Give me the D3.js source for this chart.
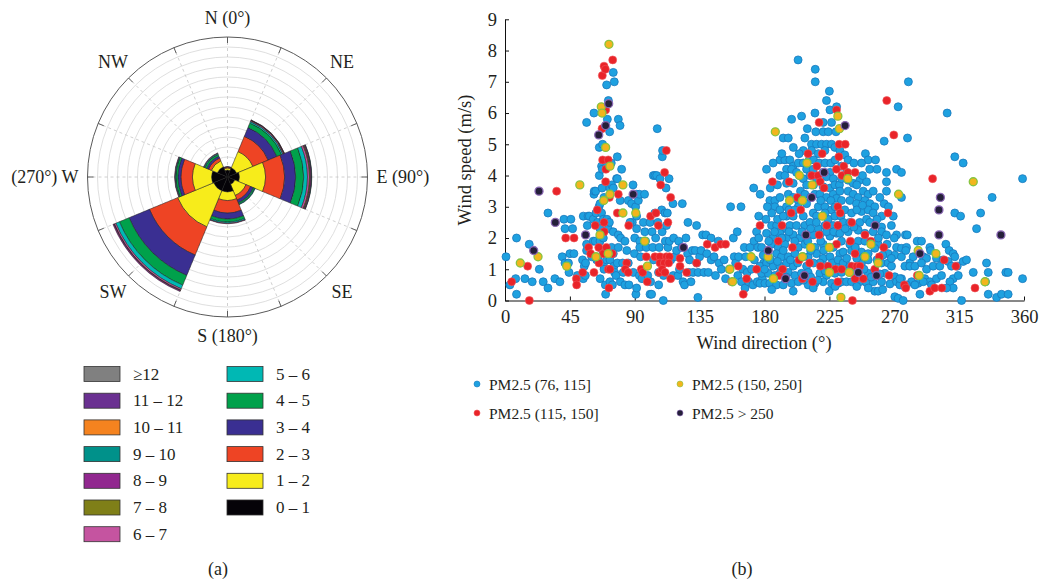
<!DOCTYPE html>
<meta charset="utf-8">
<body style="margin:0;background-color:white;">
<svg width="1041" height="583"></svg>
<script src="https://d3js.org/d3.v7.min.js"></script>
<script>

var svgContainer = d3.select("svg");
var serifFont = '"Liberation Serif", "DejaVu Serif", serif';
var inkColor = '#231f20';

// ---------------- (a) wind rose data ----------------
var sectorAngles  = [0, 45, 90, 135, 180, 225, 270, 315];
var compassLabels = ["N (0°)", "NE", "E (90°)", "SE", "S (180°)", "SW", "(270°) W", "NW"];
var speedBins = ["0 – 1", "1 – 2", "2 – 3", "3 – 4", "4 – 5", "5 – 6", "6 – 7",
				 "7 – 8", "8 – 9", "9 – 10", "10 – 11", "11 – 12", "≥12"];
var binColors = ["#050308", "#f7ec1b", "#ee4424", "#3a2f92", "#00a14b", "#00b8b4", "#c554a0",
				 "#7f7f18", "#91278f", "#00918a", "#f5831f", "#6a3091", "#808080"];

// frequency (%) of each speed bin per sector
var freqN  = [0.7, 0.2, 0.1, 0.05, 0, 0, 0, 0, 0, 0, 0, 0, 0];
var freqNE = [1.0, 1.75, 1.65, 0.95, 0.5, 0.15, 0.1, 0.05, 0.03, 0, 0, 0, 0];
var freqE  = [1.2, 2.6, 1.9, 1.1, 0.8, 0.4, 0.2, 0.1, 0.1, 0.03, 0, 0, 0];
var freqSE = [0.8, 1.2, 0.5, 0.3, 0.15, 0.05, 0, 0, 0, 0, 0, 0, 0];
var freqS  = [1.5, 0.85, 1.25, 0.6, 0.3, 0.12, 0.05, 0, 0, 0, 0, 0, 0];
var freqSW = [1.5, 3.9, 3.05, 2.2, 1.05, 0.4, 0.15, 0.05, 0.1, 0, 0, 0, 0];
var freqW  = [1.6, 1.9, 1.15, 0.3, 0.2, 0.08, 0.05, 0, 0, 0, 0, 0, 0];
var freqNW = [1.1, 0.65, 0.3, 0.2, 0.2, 0.1, 0.05, 0, 0, 0, 0, 0, 0];
var roseFreq = [freqN, freqNE, freqE, freqSE, freqS, freqSW, freqW, freqNW];

// ---------------- (b) scatter data: [wind direction, wind speed] ----------------
var xTicks = [0, 45, 90, 135, 180, 225, 270, 315, 360];
var yTicks = [0, 1, 2, 3, 4, 5, 6, 7, 8, 9];

var pmBlue = [
[0.7,1.4],[3.4,0.5],[7.4,0.7],[8,2.0],[8,0.2],[13.8,0.7],[16.8,1.8],[18.9,0.6],[23.8,1.0],[26.5,0.6],[29.8,0.4],[29.8,2.8],[34.6,0.7],[38.1,0.6],[39.7,1.4],[40.9,2.6],[41.6,2.3],[41.6,1.2],[44,1.2],[44.4,0.9],[45,1.5],[45.7,2.6],[46.9,2.3],[47.8,1.5],[50.2,0.8],
[53.8,1.3],[54.3,2.7],[54.3,0.7],[55,1.1],[55.7,0.8],[55.9,1.2],[56.6,5.7],[56.6,1.8],[56.6,1.6],[57.1,2.4],[57.6,2.7],[58.5,2.7],[60.1,1.4],[61.2,2.6],[61.2,1.9],[61.7,6.0],[61.7,3.4],[61.9,3.5],[62.6,1.9],[62.9,3.5],[63.1,2.8],[63.6,1.3],[64.2,2.5],[64.7,1.3],[65.2,3.0],[65.4,4.9],[65.4,4.0],[65.9,3.1],[65.9,2.3],[65.9,1.9],[66,0.7],[67,4.3],[67,2.8],[67.3,3.6],[67.5,4.2],[67.7,5.0],[67.7,1.6],[68.2,2.6],[68.2,2.0],[68.2,1.15],[68.7,3.3],[68.7,1.0],[69.6,0.5],[69.8,0.2],
[70.5,6.9],[70.5,2.5],[70.5,4.3],[70.5,1.3],[70.7,2.6],[71,5.8],[71.6,2.3],[71.7,6.4],[71.7,1.6],[72.4,2.5],[72.6,5.4],[72.8,3.6],[72.8,1.3],[72.8,0.6],[73.7,4.4],[74,3.7],[74,1.7],[74.5,0.5],[75.1,7.3],[75.1,3.6],[75.1,2.2],[75.1,1.5],[75.6,1.1],[75.8,7.0],[76,0.9],[77,0.8],[77.4,3.9],[77.9,4.6],[77.9,3.9],[77.9,1.2],[78.6,5.8],[78.6,2.1],[78.6,1.7],[79.8,5.6],[79.9,3.2],[80,0.6],[80.2,2.0],[80.9,4.2],[81.6,1.2],[82,0.9],[83.2,1.9],[83.2,0.5],[84.5,1.6],[85.5,3.2],[85.5,1.2],[86,0.5],[87.8,3.1],[88.8,3.7],[88.3,2.5],[89,0.9],
[86.7,2.5],[89.8,1.5],[90.6,3.0],[90.8,0.2],[91.3,3.4],[91.3,2.3],[91.3,2.7],[91.3,0.4],[92.5,3.2],[90,2.0],[93.2,3.4],[93.5,1.9],[93.2,0.8],[93.5,1.7],[94,1.4],[95,0.7],[96,2.5],[96.8,3.4],[97,2.2],[97.5,1.9],[98,1.7],[99,0.8],[100.6,2.5],[100.6,0.2],[101,0.6],[101.7,0.2],[102,2.2],[102.9,4.0],[102.5,1.7],[103,1.3],[104,2.8],[104,4.0],[104.5,2.0],[105.2,4.0],[105.6,5.5],[106,2.5],[106.5,0.9],[106.6,0.5],[107.5,3.9],[107,1.7],[108.7,2.9],[109,2.2],[109.1,4.6],[109.3,4.8],
[109.8,0.0],[110,0.8],[111,2.8],[111.2,1.9],[111.7,3.6],[112,2.4],[112.6,2.8],[113,1.7],[113.8,3.9],[114,1.9],[115,1.3],[116.5,3.1],[116.7,0.8],[117,2.0],[118,1.4],[119,1.6],[120,0.8],[120.5,1.9],[121,1.0],[122.5,1.7],[123,3.1],[123.5,0.6],[124.5,0.5],[125.5,2.0],[126.7,1.5],[126.9,2.5],[127.5,0.9],[128,1.3],[129,0.6],[130,1.6],[130.5,0.9],[132,1.6],[132.9,2.4],[133,1.2],[133.8,0.1],[134,0.9],[135,1.4],
[136,1.6],[137.1,2.1],[138,0.9],[139.4,2.1],[140,1.5],[141,0.9],[142.9,2.0],[143,1.3],[145,1.4],[146,0.8],[148,1.9],[148.5,1.2],[150,1.0],[152,1.3],[153,0.7],[155.5,1.0],[156.5,3.0],[158.4,2.0],[159,1.4],[160,1.2],[161.1,2.2],[161.5,0.8],[162,1.4],[163.7,3.0],[164,0.6],[165,1.0],[166.5,0.4],[166,1.7],[167,1.4],[168,0.9],[169,0.6],[170,1.7],[171,1.0],[172,0.5],[172.5,3.6],[172.7,1.9],[173,1.3],[174.5,2.2],[175,0.6],[175.5,1.7],[176,2.7],[177,3.4],[178.5,0.7],[179.5,1.2],
[223,6.4],[225.4,6.1],[230,6.2],[215,6.0],[205.7,5.9],[198.8,5.8],[220.7,5.7],[226.5,5.7],[193,5.2],[196.5,5.2],[215.6,5.4],[220.7,5.4],[224.2,5.4],[229.6,5.4],[209.7,5.5],[212.6,5.0],[216.1,5.0],[219.6,5.0],[223,5.0],[226.5,5.0],[206.9,4.8],[212.6,4.8],[217.3,4.7],[221.9,4.8],[190.7,4.5],[194.1,4.5],[197.6,4.5],[199.9,4.3],[203.4,4.4],[206.9,4.4],[181.4,4.2],[195.3,4.2],[198.8,4.2],[202.2,4.1],[209.2,4.2],[213.8,4.2],[220.7,4.1],[225.4,4.1],
[190.7,4.0],[194.1,4.0],[206.9,3.9],[211.5,4.0],[216.1,3.9],[223,3.96],[227.7,3.9],[195.3,3.75],[199.9,3.75],[209.2,3.7],[220.7,3.64],[225.4,3.6],[228.8,3.7],[183.7,3.2],[187.2,3.2],[190.7,3.3],[196.5,3.4],[199.9,3.3],[203.4,3.2],[215,3.4],[218.4,3.4],[223,3.3],[227.7,3.4],[230,3.27],[187.2,3.0],[190.7,2.9],[195.3,3.0],[203.4,3.0],[209.2,3.1],[217.3,3.0],[221.9,3.0],[226.5,2.9],
[195.3,2.7],[199.9,2.7],[206.9,2.7],[213.8,2.8],[216.1,2.7],[224.2,2.6],[228.8,2.7],[184.9,2.4],[188.4,2.4],[193,2.3],[197.6,2.4],[202.2,2.4],[208,2.4],[211.5,2.5],[217.3,2.3],[221.9,2.4],[227.7,2.4],[231.1,2.4],[181.4,2.15],[186,2.0],[190.7,2.15],[195.3,2.0],[199.9,2.1],[204.5,2.0],[213.8,2.1],[218.4,2.1],[225.4,2.06],[230,2.15],
[178,1.7],[184.9,1.8],[189.5,1.7],[194.1,1.8],[203.4,1.7],[208,1.8],[215,1.7],[220.7,1.8],[227.7,1.7],[179.1,1.45],[182.6,1.4],[188.4,1.5],[191.8,1.4],[196.5,1.4],[201.1,1.5],[210.3,1.4],[216.1,1.5],[220.7,1.35],[225.4,1.4],[232.3,1.5],[176.8,1.1],[181.4,1.2],[186,1.1],[190.7,1.1],[195.3,1.2],[199.9,1.1],[209.2,1.1],[218.4,1.2],[223,1.1],[230,1.1],
[178,0.87],[182.6,0.87],[187.2,0.8],[190.7,0.87],[196.5,0.9],[201.1,0.8],[205.7,0.87],[210.3,0.9],[218.4,0.87],[223,0.8],[228.8,0.87],[176.8,0.55],[180.3,0.55],[183.7,0.55],[188.4,0.5],[198.8,0.55],[203.4,0.6],[210.3,0.5],[215,0.55],[220.7,0.6],[226.5,0.55],[231.1,0.55],[199.9,0.3],[213.8,0.4],[224.9,0.3],[203.3,7.7],[215.2,7.4],[215.2,7.0],[225,6.7],
[184,3.6],[186,4.4],[189,3.7],[192,4.7],[200,4.9],[204,4.7],[208,5.2],[211,4.5],[214,4.5],[218,4.4],[222,4.4],[226,4.4],[229,4.5],[185,2.8],[189,2.6],[193,2.7],[197,2.9],[201,2.9],[205,3.5],[208,3.4],[212,3.3],[214,3.7],[219,3.2],[222,2.8],[226,3.2],[229,3.0],[232,3.7],
[183,1.9],[187,2.2],[192,2.0],[197,2.2],[201,1.9],[206,2.2],[210,1.9],[212,2.3],[216,2.5],[219,1.9],[223,2.2],[228,2.2],[233,2.7],[180,1.0],[184,1.3],[189,1.25],[193,1.6],[198,1.3],[203,1.2],[207,1.4],[212,1.6],[214,1.2],[221,1.6],[227,1.2],[231,1.3],[185,0.35],[193,0.5],[195,0.75],[207,0.65],[212,0.75],[217,0.65],[222,0.95],[229,0.45],
[272.7,6.2],[279.8,7.0],[263,5.1],[279.2,5.2],[228.8,4.9],[232.3,4.8],[235.7,4.66],[250,4.7],[251.9,4.5],[257,4.5],[247.3,4.4],[233.4,4.3],[238,4.5],[264.6,4.1],[264.6,3.8],[264.6,3.5],[263,3.1],[271.6,4.2],[275,4.1],[233.4,3.9],[238,3.85],[241.5,3.75],[246.1,3.85],[250.8,3.8],[232.3,3.5],[238,3.5],[241.5,3.4],[245,3.3],[248.5,3.5],[251.9,3.4],[255.4,3.5],
[233.4,3.2],[239.2,3.2],[243.8,3.1],[249.6,3.2],[253.1,3.1],[256.5,3.0],[235.7,2.9],[240.4,2.8],[247.3,2.85],[251.9,2.9],[255.4,2.8],[261.2,2.7],[269.3,2.7],[234.6,2.5],[239.2,2.5],[246.1,2.5],[250.8,2.6],[256.5,2.4],[261.2,2.35],[232.3,2.15],[238,2.2],[245,2.25],[249.6,2.15],[255.4,2.2],[261.2,2.2],[264.6,2.1],[271.6,2.1],[277.8,2.1],
[233.4,1.9],[239.2,1.8],[245,1.9],[249.6,1.9],[258.8,1.8],[271.6,1.7],[275,1.67],[278.5,1.7],[234.6,1.55],[240.4,1.6],[247.3,1.55],[251.9,1.5],[256.5,1.67],[265.8,1.5],[270.4,1.45],[275,1.4],[280.8,1.2],[234.6,1.2],[239.2,1.1],[247.3,1.2],[251.9,1.3],[261.2,1.2],[265.8,1.2],[268.1,1.1],
[233.4,0.9],[238,0.95],[242.7,0.87],[251.9,0.87],[256.5,0.97],[263.5,0.87],[270.4,0.76],[275,0.7],[233.4,0.6],[236.9,0.6],[240.4,0.6],[246.1,0.6],[250.8,0.57],[255.4,0.6],[261.2,0.6],[267,0.53],[271.6,0.6],[273.9,0.5],[277.4,0.44],[256.5,0.3],[258.8,0.3],[270.4,0.12],[272.7,0.07],[306.7,6.0],
[237,4.1],[242,4.4],[244,3.7],[248,4.0],[253,4.2],[258,4.2],[260,3.3],[244,2.9],[248,3.05],[258,2.6],[236,2.3],[242,2.35],[253,2.5],[259,2.0],[243,1.7],[254,1.8],[262,1.45],[237,1.35],[244,1.35],[249,1.4],[258,1.3],[245,0.9],[249,1.0],[254,0.75],[260,0.85],[244,0.45],[252,0.4],[262,0.35],[265,1.8],[268,2.4],[266,3.0],[268,1.35],[270,2.0],[176,2.0],[181,2.6],[182,3.0],
[312,4.6],[317.8,4.4],[359,3.9],[275,3.3],[312,2.8],[316,2.7],[329.9,2.8],[337.9,3.3],[327.1,2.3],[279,2.1],[285.9,1.9],[288.9,1.9],[278,1.6],[294.7,1.7],[295.2,1.6],[305.8,1.8],[308.1,1.6],[310.9,1.5],[312,1.4],[283.1,1.4],[290.1,1.4],[292.4,1.35],[299.3,1.35],[303.9,1.3],[307.4,1.25],[309.7,1.1],[313.7,1.1],[317.8,1.25],[320.1,1.3],
[277.4,1.1],[280.8,1.1],[284.3,1.1],[288.9,1.2],[292.4,1.0],[297,1.1],[301.6,1.1],[334,1.2],[335.2,0.9],[324.8,0.9],[347.4,0.9],[349,0.9],[359,0.7],[273.9,0.7],[282,0.6],[286.6,0.55],[291.2,0.7],[294.7,0.6],[299.3,0.7],[302.8,0.8],[310.9,0.7],[314.4,0.8],[278.5,0.5],[284.3,0.5],[290.1,0.6],[295.9,0.5],[308.6,0.6],[310.9,0.4],[333.3,0.6],
[287.8,0.2],[306.3,0.4],[316.7,0.0],[335.2,0.2],[341,0.1],[344.4,0.2],[349,0.2],[276.2,0.0]
];

var pmRed = [
[4.6,0.6],[15.7,1.1],[16.9,0.0],[35.8,3.5],[42.1,2.0],[47.9,2.0],[49.5,0.7],[49.7,0.5],[53.9,0.9],[58,1.7],[59.4,1.5],[61.7,0.9],[62.6,2.4],[64,2.9],[65,1.7],[65.2,1.2],[67.3,5.5],[67.5,7.2],[68.7,7.5],[69.6,7.4],[67.7,4.5],[68.7,2.5],[68.2,1.5],[68.8,2.2],[69.8,6.1],[69.8,3.8],[70,4.2],[70.3,1.7],[71.6,4.5],[72.4,3.3],[71.7,1.0],[72.1,0.4],[72.8,1.0],[74.4,1.5],[74.7,7.7],[78.6,3.4],[77.9,2.8],[84.4,1.2],[83.4,1.0],[85.5,0.9],[85.8,2.4],
[94.5,1.0],[95.5,0.9],[98,1.4],[98.7,0.6],[101,2.7],[104.7,2.8],[106.4,2.4],[108,3.7],[111.9,4.8],[110.7,4.1],[114.9,3.3],[113,2.5],[104,1.4],[107.5,1.4],[112,1.4],[114,1.4],[107.5,1.2],[110.5,1.2],[113.5,1.2],[107,0.9],[109,1.0],[111,0.9],[114.9,0.7],[121.4,1.35],[121.4,1.1],[126,0.9],[132.9,1.2],[140.3,1.8],[145.7,1.7],[149.6,1.8],[153,1.8],[157.2,0.6],[161.8,1.1],[165.3,0.2],[167.6,0.7],[174.5,1.0],[176.9,2.4],
[185.5,3.8],[197.1,3.8],[192.1,2.4],[189.6,1.9],[198.5,2.8],[205.1,2.9],[202.8,3.3],[199.4,1.7],[204,1.3],[190.3,0.8],[192.6,1.0],[206.3,0.7],[211.3,1.2],[213.3,0.6],[210.2,4.7],[212.7,4.0],[217.2,4.0],[216.3,4.3],[217.9,5.7],[217.9,2.1],[218.6,3.8],[221.3,3.6],[220,4.7],[218.8,1.1],[224.1,1.1],[223.2,2.4],[229.1,1.0],[230,6.1],[230,1.8],[230.9,2.4],[230.9,0.6],[230.9,3.0],[232.5,2.8],[229.9,4.2],[231.6,4.6],[231.8,5.0],[236,5.0],[233.7,4.0],[233.5,1.0],[235,4.3],[237.8,4.1],[242.8,4.1],
[240.5,1.1],[244,1.1],[246.2,1.1],[242.8,0.7],[248.5,0.7],[239.6,1.9],[240.5,2.5],[242.8,1.5],[241,0.0],[249.7,2.1],[253.8,1.9],[256.5,1.0],[259.7,1.4],[262.7,1.7],[266.4,0.8],[265.7,2.8],[269.7,5.3],[264.8,6.4],[277,0.5],[278,0.4],[286,0.8],[294.7,0.3],[296.6,3.9],[298,0.4],[303,0.4],[304.7,1.3],[312.7,1.1],[326,0.4]
];

var pmYellow = [
[10.6,1.2],[22.9,1.4],[42.8,1.1],[51.9,3.7],[63.1,1.4],[65.9,2.1],[66.8,6.2],[67.3,6.0],[68.5,3.2],[69.8,4.9],[72.1,8.2],[72.8,4.3],[72.8,3.4],[71.6,1.5],[81.8,3.7],[81.8,2.8],[90.7,2.8],[96.9,1.9],[98.8,1.1],[156,1.0],[157.9,0.6],[170.7,1.4],[182.5,1.4],[186.2,0.7],[187.5,5.4],
[197.4,3.2],[204.2,4.0],[206.3,3.2],[206.3,1.4],[209.5,4.4],[212,1.7],[213.1,3.7],[220.2,2.7],[225,1.7],[225,0.9],[230.9,5.9],[232,5.5],[233,0.1],[237.8,3.9],[238.9,0.9],[249.7,1.4],[253.8,1.8],[258.8,1.2],[273,3.4],[286.6,1.6],[287.3,0.8],[298.9,1.5],[324.8,3.8],[332.9,0.6]
];

var pmDark = [
[19.9,1.6],[23.6,3.5],[34.9,2.5],[55.9,2.1],[65,5.3],[69.8,5.6],[71.9,6.3],[88.9,3.4],[123.8,1.7],[182.6,1.6],[194.6,0.7],[207.7,0.8],[208.7,2.1],[212.7,3.3],[221.4,4.1],[235.9,5.6],[245.1,0.9],[256.7,2.4],[257.7,0.8],[287.8,1.5],[301,2.9],[301,2.1],[302,3.3],[344,2.1]
];

var seriesNames = ["PM2.5 (76, 115]", "PM2.5 (115, 150]", "PM2.5 (150, 250]", "PM2.5 > 250"];

// ================= (a) wind rose =================
var roseGroup = svgContainer.append('g')
							.attr('transform', 'translate(227.5,177)');
var rScale = d3.scaleLinear().domain([0, 14]).range([0, 140]);
var toRad = Math.PI / 180;

roseGroup.selectAll('circle.ring')
		 .data(d3.range(1, 14))
		 .enter().append('circle')
		 .attr('class', 'ring')
		 .attr('r', function(d) { return rScale(d); })
		 .attr('fill', 'none')
		 .attr('stroke', '#d6d6d6')
		 .attr('stroke-width', 0.8);

roseGroup.selectAll('line.spoke')
		 .data(d3.range(0, 360, 22.5))
		 .enter().append('line')
		 .attr('class', 'spoke')
		 .attr('x1', 0).attr('y1', 0)
		 .attr('x2', function(d) { return rScale(14) * Math.sin(d * toRad); })
		 .attr('y2', function(d) { return -rScale(14) * Math.cos(d * toRad); })
		 .attr('stroke', '#c4c4c4')
		 .attr('stroke-width', 0.8)
		 .attr('stroke-dasharray', '3,3');

var bandArc = d3.arc();
roseFreq.forEach(function(freqs, i) {
	var cum = 0;
	freqs.forEach(function(f, b) {
		if (f <= 0) return;
		roseGroup.append('path')
				 .attr('d', bandArc({
					innerRadius: rScale(cum),
					outerRadius: rScale(cum + f),
					startAngle: (sectorAngles[i] - 22.5) * toRad,
					endAngle: (sectorAngles[i] + 22.5) * toRad
				 }))
				 .attr('fill', binColors[b])
				 .attr('stroke', '#1d1d1d')
				 .attr('stroke-width', 0.5);
		cum += f;
	});
});

roseGroup.append('circle')
		 .attr('r', rScale(14))
		 .attr('fill', 'none')
		 .attr('stroke', '#5a5a5a')
		 .attr('stroke-width', 1);

roseGroup.selectAll('line.tick')
		 .data(d3.range(0, 360, 22.5))
		 .enter().append('line')
		 .attr('class', 'tick')
		 .attr('x1', function(d) { return (rScale(14) - 6) * Math.sin(d * toRad); })
		 .attr('y1', function(d) { return -(rScale(14) - 6) * Math.cos(d * toRad); })
		 .attr('x2', function(d) { return rScale(14) * Math.sin(d * toRad); })
		 .attr('y2', function(d) { return -rScale(14) * Math.cos(d * toRad); })
		 .attr('stroke', '#5a5a5a')
		 .attr('stroke-width', 1);

compassLabels.forEach(function(label, i) {
	var a = sectorAngles[i];
	var side = (a == 90 || a == 270);
	var r = side ? 149 : (a % 90 == 0 ? 159 : 162);
	roseGroup.append('text')
			 .attr('x', r * Math.sin(a * toRad))
			 .attr('y', -r * Math.cos(a * toRad))
			 .attr('text-anchor', a == 90 ? 'start' : (a == 270 ? 'end' : 'middle'))
			 .attr('dominant-baseline', 'central')
			 .attr('font-family', serifFont)
			 .attr('font-size', '18px')
			 .attr('fill', inkColor)
			 .text(label);
});

// legend (a): highest bin first, two columns
var legendA = svgContainer.append('g');
speedBins.slice().reverse().forEach(function(label, k) {
	var b = speedBins.length - 1 - k;
	var col = k < 7 ? 0 : 1;
	var row = k < 7 ? k : k - 7;
	var gx = col == 0 ? 84 : 227;
	var gy = 374 + row * 26.7;
	legendA.append('rect')
		   .attr('x', gx).attr('y', gy - 7.5)
		   .attr('width', 36).attr('height', 15)
		   .attr('fill', binColors[b])
		   .attr('stroke', '#333')
		   .attr('stroke-width', 0.8);
	legendA.append('text')
		   .attr('x', gx + 49).attr('y', gy)
		   .attr('dominant-baseline', 'central')
		   .attr('font-family', serifFont)
		   .attr('font-size', '17px')
		   .attr('fill', inkColor)
		   .text(label);
});

svgContainer.append('text')
			.attr('x', 218).attr('y', 575)
			.attr('text-anchor', 'middle')
			.attr('font-family', serifFont)
			.attr('font-size', '18px')
			.attr('fill', inkColor)
			.text('(a)');

// ================= (b) scatter =================
var xScale = d3.scaleLinear().domain([0, 360]).range([505, 1024]);
var yScale = d3.scaleLinear().domain([0, 9]).range([300.5, 19.3]);

var xAxis = svgContainer.append('g')
						.attr('transform', 'translate(0,300.5)')
						.call(d3.axisBottom(xScale).tickValues(xTicks)
							.tickSizeInner(-4).tickSizeOuter(0).tickPadding(9));
var yAxis = svgContainer.append('g')
						.attr('transform', 'translate(505,0)')
						.call(d3.axisLeft(yScale).tickValues(yTicks)
							.tickSizeInner(-4).tickSizeOuter(0).tickPadding(8));

[xAxis, yAxis].forEach(function(ax) {
	ax.selectAll('path, line').attr('stroke', '#111').attr('stroke-width', 1);
	ax.selectAll('text')
	  .attr('font-family', serifFont)
	  .attr('font-size', '18.5px')
	  .attr('fill', inkColor);
});

svgContainer.append('text')
			.attr('transform', 'translate(471,160)rotate(-90)')
			.attr('text-anchor', 'middle')
			.attr('font-family', serifFont)
			.attr('font-size', '18.5px')
			.attr('fill', inkColor)
			.text('Wind speed (m/s)');

svgContainer.append('text')
			.attr('x', 764).attr('y', 349)
			.attr('text-anchor', 'middle')
			.attr('font-family', serifFont)
			.attr('font-size', '18.5px')
			.attr('fill', inkColor)
			.text('Wind direction (°)');

var pmSeries = [
	{points: pmBlue,   fill: '#1ea1e0', stroke: '#1b78bd', sw: 0.8},
	{points: pmRed,    fill: '#e92429', stroke: '#f0585c', sw: 0.6},
	{points: pmYellow, fill: '#f2b51d', stroke: '#86c440', sw: 1.3},
	{points: pmDark,   fill: '#25203a', stroke: '#8b68b5', sw: 1.3}
];

pmSeries.forEach(function(s) {
	svgContainer.append('g')
				.selectAll('circle')
				.data(s.points)
				.enter().append('circle')
				.attr('cx', function(d) { return xScale(d[0]); })
				.attr('cy', function(d) { return yScale(d[1]); })
				.attr('r', 4)
				.attr('fill', s.fill)
				.attr('stroke', s.stroke)
				.attr('stroke-width', s.sw);
});

// legend (b)
pmSeries.forEach(function(s, i) {
	var lx = i < 2 ? 477 : 680;
	var ly = 384 + (i % 2) * 29;
	svgContainer.append('circle')
				.attr('cx', lx).attr('cy', ly)
				.attr('r', 3)
				.attr('fill', s.fill)
				.attr('stroke', s.stroke)
				.attr('stroke-width', 0.6);
	svgContainer.append('text')
				.attr('x', lx + 12).attr('y', ly)
				.attr('dominant-baseline', 'central')
				.attr('font-family', serifFont)
				.attr('font-size', '15.5px')
				.attr('fill', inkColor)
				.text(seriesNames[i]);
});

svgContainer.append('text')
			.attr('x', 742).attr('y', 575)
			.attr('text-anchor', 'middle')
			.attr('font-family', serifFont)
			.attr('font-size', '18px')
			.attr('fill', inkColor)
			.text('(b)');

</script>
</body>
